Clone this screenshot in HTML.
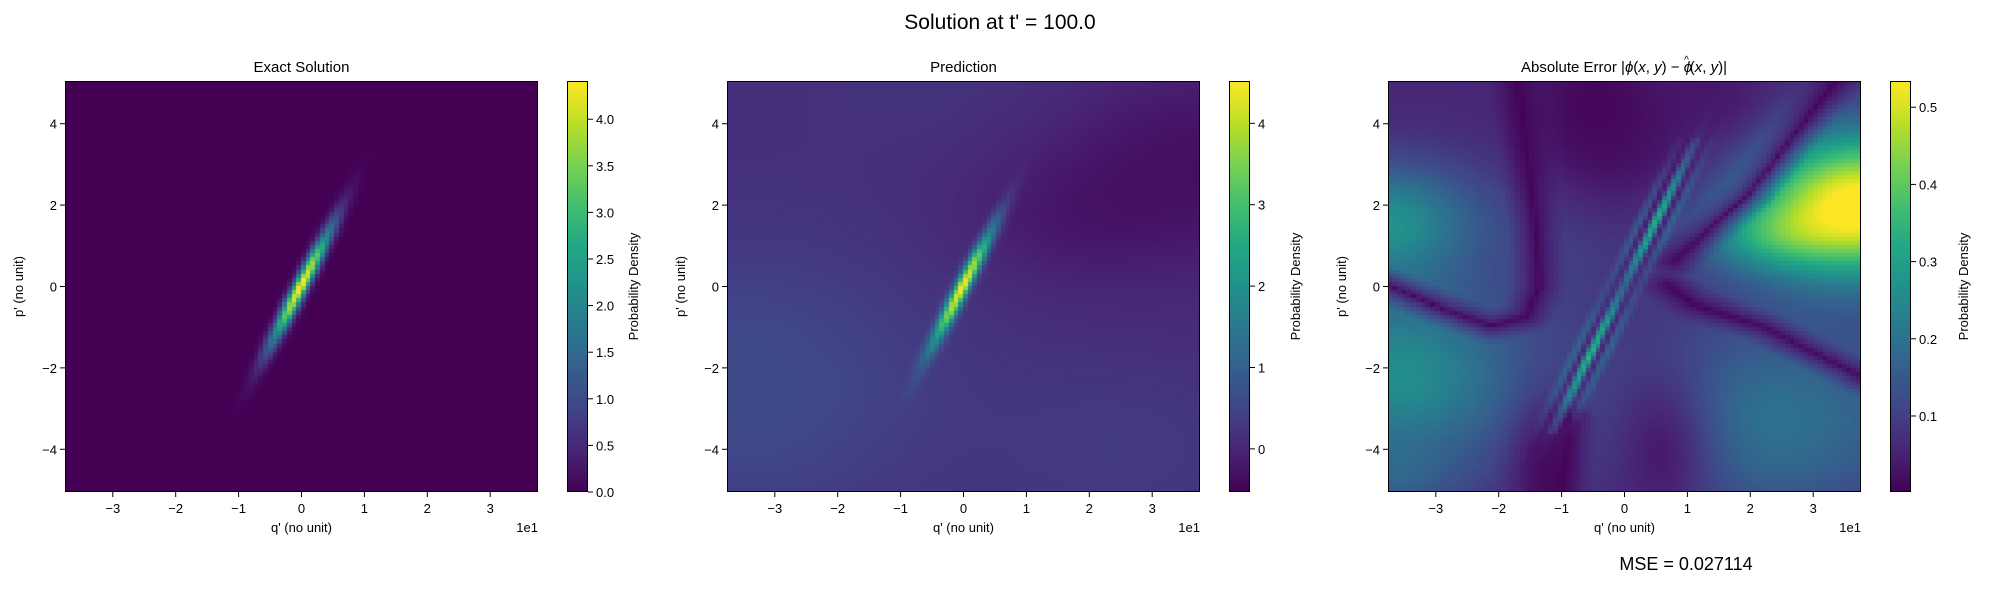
<!DOCTYPE html>
<html><head><meta charset="utf-8">
<style>
body{margin:0;background:#fff;width:2000px;height:600px;overflow:hidden;position:relative;font-family:"Liberation Sans",sans-serif}
canvas{position:absolute}
svg{position:absolute;left:0;top:0}
text{font-family:"Liberation Sans","DejaVu Sans",sans-serif;fill:#000}
</style></head>
<body>
<canvas id="c1"></canvas>
<canvas id="c2"></canvas>
<canvas id="c3"></canvas>
<canvas id="b1"></canvas>
<canvas id="b2"></canvas>
<canvas id="b3"></canvas>
<svg id="svg" width="2000" height="600"></svg>
<script>
// ---- data ----
const xTicks=[-3,-2,-1,0,1,2,3];
const yTicks=[-4,-2,0,2,4];
const xRange=[-3.76,3.76];
const yRange=[-5.05,5.05];
const gridN=100;
const gaussCenter=[0,0];
const gaussSigma=[0.34,1.0];
const gaussCorr=[0.965];
const exactPeak=[4.4];
const predPeak=[4.3];
const cb1Range=[0,4.41];const cb1Ticks=[0,0.5,1,1.5,2,2.5,3,3.5,4];const cb1Labels=["0.0","0.5","1.0","1.5","2.0","2.5","3.0","3.5","4.0"];
const cb2Range=[-0.53,4.52];const cb2Ticks=[0,1,2,3,4];const cb2Labels=["0","1","2","3","4"];
const cb3Range=[0.0015,0.534];const cb3Ticks=[0.1,0.2,0.3,0.4,0.5];const cb3Labels=["0.1","0.2","0.3","0.4","0.5"];
// prediction background blobs [q,p,sq,sp,amp]
const predBg=[[-3.5,-2.5,2.2,2.5,0.5],[3.7,3,1.8,1.8,-0.45],[1.5,1.5,1.2,1.2,-0.2],[0,5,2,1.5,0.1],[2.5,-4,1.5,1.5,0.2]];
// error blobs [q,p,sq,sp,amp]
const errBlobs=[[3.8,2.0,1.3,1.25,0.5],[2.2,1.2,0.8,0.6,0.12],[-3.8,1.6,1.0,1.0,0.2],[-3.6,-2.2,1.4,1.6,0.2],[2.4,-3.3,1.8,1.8,0.14],[-1,1.5,1.0,1.5,0.04],[-3.7,-4.8,0.8,0.6,0.06]];
const errBase=[0.06];
const errBand=[0.3];
// dark regions [q,p,sq,sp,strength]
const darkBlobs=[[-0.5,4.5,0.7,1.5,0.8],[0.1,3.5,1.0,1.4,0.5],[0.6,-4,0.6,1.5,0.7],[-1.3,-4.5,0.35,1.2,0.8],[1.6,4.5,0.6,1.0,0.4]];
// dark zero-error curves as polylines
const darkLines=[
 [[-3.8,0.05],[-2.9,-0.55],[-2.1,-0.98],[-1.55,-0.75],[-1.35,0.0],[-1.4,1.5],[-1.7,5.1]],
 [[0.7,0.0],[1.1,-0.45],[2.2,-1.0],[3.8,-2.25]],
 [[0.8,0.6],[2.0,2.3],[3.4,5.1]],
 [[-1.0,-5.1],[-0.85,-3.3]]
];
// ---- helpers ----
const vir=[[68,1,84],[72,36,117],[65,68,135],[53,95,141],[42,120,142],[33,145,140],[34,168,132],[68,191,112],[122,209,81],[189,223,38],[253,231,37]];
function cmap(t){t=Math.max(0,Math.min(1,t));const f=t*10,i=Math.min(9,Math.floor(f)),r=f-i,a=vir[i],b=vir[i+1];
 return 'rgb('+Math.round(a[0]+(b[0]-a[0])*r)+','+Math.round(a[1]+(b[1]-a[1])*r)+','+Math.round(a[2]+(b[2]-a[2])*r)+')';}
function gauss(q,p,pk){const sx=gaussSigma[0],sy=gaussSigma[1],r=gaussCorr[0];const x=(q-gaussCenter[0])/sx,y=(p-gaussCenter[1])/sy;
 return pk*Math.exp(-(x*x-2*r*x*y+y*y)/(2*(1-r*r)));}
function blobs(list,q,p){let s=0;for(const b of list){const dx=(q-b[0])/b[2],dy=(p-b[1])/b[3];s+=b[4]*Math.exp(-(dx*dx+dy*dy)/2);}return s;}
function segDist(q,p,a,b){const vx=b[0]-a[0],vy=b[1]-a[1];let t=((q-a[0])*vx+(p-a[1])*vy)/(vx*vx+vy*vy);t=Math.max(0,Math.min(1,t));const dx=q-a[0]-t*vx,dy=p-a[1]-t*vy;return Math.sqrt(dx*dx+dy*dy);}
const fields={
 exact:(q,p)=>gauss(q,p,exactPeak[0]),
 pred:(q,p)=>gauss(q,p,predPeak[0])+0.12+blobs(predBg,q,p),
 err:(q,p)=>{let v=errBase[0]+blobs(errBlobs,q,p);
   for(const d of darkBlobs){const dx=(q-d[0])/d[2],dy=(p-d[1])/d[3];v*=1-d[4]*Math.exp(-(dx*dx+dy*dy)/2);}
   let f=1;for(const L of darkLines){let d=1e9;for(let i=0;i<L.length-1;i++)d=Math.min(d,segDist(q,p,L[i],L[i+1]));f=Math.min(f,Math.min(1,d/0.45));}
   v*=(0.08+0.92*Math.pow(f,0.8));
   const perp=(q-p*0.32),ap=Math.abs(p);
   const env=Math.exp(-perp*perp/(2*0.17*0.17))*Math.exp(-Math.pow(ap-1.6,2)/(2*1.1*1.1))*(ap<3.6?1:0.3);
   const stripe=0.5+0.5*Math.cos(perp*22);
   v=v*(1-0.6*env)+errBand[0]*env*stripe;
   return v;}
};
const panels=[
 {id:'c1',cb:'b1',x0:65,x1:538,cbx:567,f:'exact',rng:cb1Range,ct:cb1Ticks,cl:cb1Labels,title:'Exact Solution',name:'exact'},
 {id:'c2',cb:'b2',x0:727,x1:1200,cbx:1229,f:'pred',rng:cb2Range,ct:cb2Ticks,cl:cb2Labels,title:'Prediction',name:'prediction'},
 {id:'c3',cb:'b3',x0:1388,x1:1861,cbx:1890,f:'err',rng:cb3Range,ct:cb3Ticks,cl:cb3Labels,title:'',name:'error'}
];
const Y0=81,Y1=492,CBW=21;
const svg=document.getElementById('svg');const NS='http://www.w3.org/2000/svg';
function el(tag,at,txt){const e=document.createElementNS(NS,tag);for(const k in at)e.setAttribute(k,at[k]);if(txt!==undefined)e.textContent=txt;svg.appendChild(e);return e;}
for(const P of panels){
 const W=P.x1-P.x0,H=Y1-Y0;
 const xs=v=>P.x0+(v-xRange[0])/(xRange[1]-xRange[0])*W;
 const ys=v=>Y1-(v-yRange[0])/(yRange[1]-yRange[0])*H;
 const c=document.getElementById(P.id);c.width=W;c.height=H;c.style.left=P.x0+'px';c.style.top=Y0+'px';
 const ctx=c.getContext('2d');const cw=W/gridN,ch=H/gridN;
 for(let i=0;i<gridN;i++)for(let j=0;j<gridN;j++){
  const q=xRange[0]+(i+0.5)*(xRange[1]-xRange[0])/gridN,p=yRange[1]-(j+0.5)*(yRange[1]-yRange[0])/gridN;
  const v=fields[P.f](q,p);ctx.fillStyle=cmap((v-P.rng[0])/(P.rng[1]-P.rng[0]));
  ctx.fillRect(Math.floor(i*cw),Math.floor(j*ch),Math.ceil(cw)+1,Math.ceil(ch)+1);}
 const b=document.getElementById(P.cb);b.width=CBW;b.height=H;b.style.left=P.cbx+'px';b.style.top=Y0+'px';
 const bc=b.getContext('2d');for(let k=0;k<H;k++){bc.fillStyle=cmap(1-k/H);bc.fillRect(0,k,CBW,1);}
 let r=el('rect',{x:P.x0+0.5,y:Y0+0.5,width:W-1,height:H-1,fill:'none',stroke:'#000','stroke-width':1});
 
 el('rect',{x:P.cbx+0.5,y:Y0+0.5,width:CBW-1,height:H-1,fill:'none',stroke:'#000','stroke-width':1});
 xTicks.forEach(t=>{const x=xs(t);el('line',{x1:x,x2:x,y1:Y1,y2:Y1+5,stroke:'#000'});
  const tl=el('text',{x:x,y:Y1+21,'font-size':13,'text-anchor':'middle'},t<0?'\u2212'+(-t):''+t);
  });
 yTicks.forEach(t=>{const y=ys(t);el('line',{x1:P.x0-5,x2:P.x0,y1:y,y2:y,stroke:'#000'});
  const tl=el('text',{x:P.x0-8,y:y+5,'font-size':13,'text-anchor':'end'},t<0?'\u2212'+(-t):''+t);
  });
 P.ct.forEach((t,k)=>{const y=Y1-(t-P.rng[0])/(P.rng[1]-P.rng[0])*H;el('line',{x1:P.cbx+CBW,x2:P.cbx+CBW+5,y1:y,y2:y,stroke:'#000'});
  const tl=el('text',{x:P.cbx+CBW+8,y:y+5,'font-size':13},P.cl[k]);
  });
 const cx=(P.x0+P.x1)/2;
 let xl=el('text',{x:cx,y:532,'font-size':13,'text-anchor':'middle'},"q' (no unit)");
 
 el('text',{x:P.x1,y:532,'font-size':13,'text-anchor':'end'},'1e1');
 let yl=el('text',{x:0,y:0,'font-size':13,'text-anchor':'middle',transform:'translate('+(P.x0-42)+','+((Y0+Y1)/2)+') rotate(-90)'},"p' (no unit)");
 
 let cl=el('text',{x:0,y:0,'font-size':13,'text-anchor':'middle',transform:'translate('+(P.cbx+CBW+ (P.f==='err'?57:50))+','+((Y0+Y1)/2)+') rotate(-90)'},'Probability Density');
 
 if(P.title){let tt=el('text',{x:cx,y:72,'font-size':15,'text-anchor':'middle'},P.title);
  }
}
let t3=el('text',{x:1624,y:72,'font-size':15,'text-anchor':'middle'},'');

t3.innerHTML='Absolute Error |<tspan font-style="italic">ϕ</tspan>(<tspan font-style="italic">x</tspan>, <tspan font-style="italic">y</tspan>) − <tspan font-style="italic">ϕ</tspan><tspan dx="-8" dy="-9" font-size="10">^</tspan><tspan dx="1" dy="9">(</tspan><tspan font-style="italic">x</tspan>, <tspan font-style="italic">y</tspan>)|';
let st=el('text',{x:1000,y:29,'font-size':21,'text-anchor':'middle'},"Solution at t' = 100.0");

let ms=el('text',{x:1686,y:570,'font-size':18,'text-anchor':'middle'},'MSE = 0.027114');

</script>
</body></html>
